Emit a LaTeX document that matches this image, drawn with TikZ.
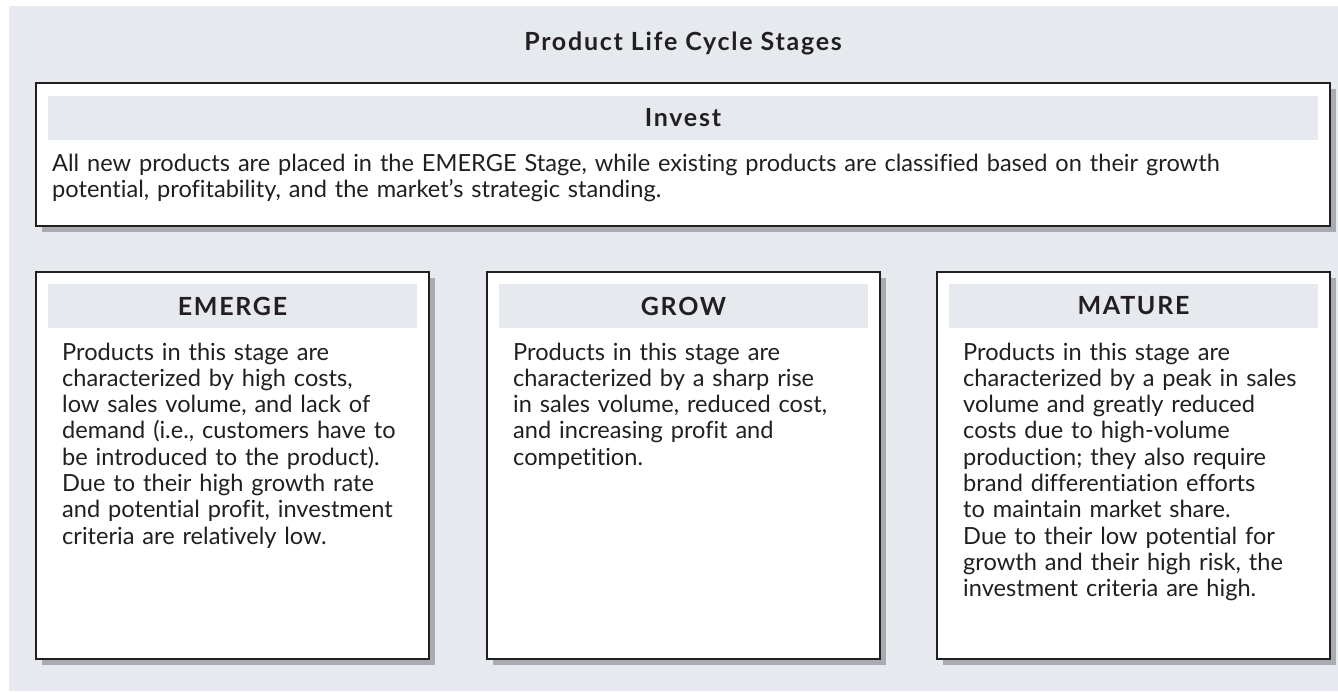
\documentclass[tikz,border=0pt]{standalone}
\usepackage{fontspec}
\setmainfont{Lato}[Ligatures={NoCommon}]
\newfontfamily\headfont{Lato}[Ligatures={NoCommon}, LetterSpace=7, BoldFont={Lato Bold}]
\usetikzlibrary{shadows}
\definecolor{panel}{HTML}{E6E9EE}
\definecolor{shade}{HTML}{A9ABB0}
\definecolor{ink}{HTML}{231F20}
\tikzset{
  card/.style={draw=ink, line width=1.3pt, fill=white, inner sep=0pt,
    drop shadow={shadow xshift=6pt, shadow yshift=-6pt, fill=shade, opacity=1}},
  band/.style={fill=panel, inner sep=0pt, text=ink, font=\headfont\fontsize{25}{26}\selectfont\bfseries},
  body/.style={anchor=base west, inner sep=0pt, text=ink, align=left,
    font=\fontsize{23.6}{26.3}\selectfont},
  titletext/.style={text=ink, inner sep=0pt, font=\headfont\fontsize{25}{26}\selectfont\bfseries}
}
\begin{document}
\begin{tikzpicture}[x=1pt,y=-1pt]
\useasboundingbox (0,0) rectangle (1338,693);
\fill[panel] (9,6) rectangle (1338,691);
\node[titletext] (title) at (683,43) {Product Life Cycle Stages};
% Invest
\node[card, minimum width=1294pt, minimum height=143pt] (invest) at (683,154.5) {};
\node[band, minimum width=1270pt, minimum height=44pt] (investhead) at (683,118) {Invest};
\node[body, text width=1270pt] (investtext) at (52,171) {All new products are placed in the EMERGE Stage, while existing products are classified based on their growth\\potential, profitability, and the market’s strategic standing.};
% Emerge
\node[card, minimum width=393pt, minimum height=387pt] (emerge) at (232.5,465.5) {};
\node[band, minimum width=369pt, minimum height=44pt] (emergehead) at (232.5,306) {EMERGE};
\node[body, text width=380pt] (emergetext) at (62,360) {Products in this stage are\\characterized by high costs,\\low sales volume, and lack of\\demand (i.e., customers have to\\be introduced to the product).\\Due to their high growth rate\\and potential profit, investment\\criteria are relatively low.};
% Grow
\node[card, minimum width=393pt, minimum height=387pt] (grow) at (683.5,465.5) {};
\node[band, minimum width=369pt, minimum height=44pt] (growhead) at (683.5,306) {GROW};
\node[body, text width=380pt] (growtext) at (513,360) {Products in this stage are\\characterized by a sharp rise\\in sales volume, reduced cost,\\and increasing profit and\\competition.};
% Mature
\node[card, minimum width=393pt, minimum height=387pt] (mature) at (1133.5,465.5) {};
\node[band, minimum width=369pt, minimum height=44pt] (maturehead) at (1133.5,306) {MATURE};
\node[body, text width=380pt] (maturetext) at (963,360) {Products in this stage are\\characterized by a peak in sales\\volume and greatly reduced\\costs due to high-volume\\production; they also require\\brand differentiation efforts\\to maintain market share.\\Due to their low potential for\\growth and their high risk, the\\investment criteria are high.};
\end{tikzpicture}
\end{document}
